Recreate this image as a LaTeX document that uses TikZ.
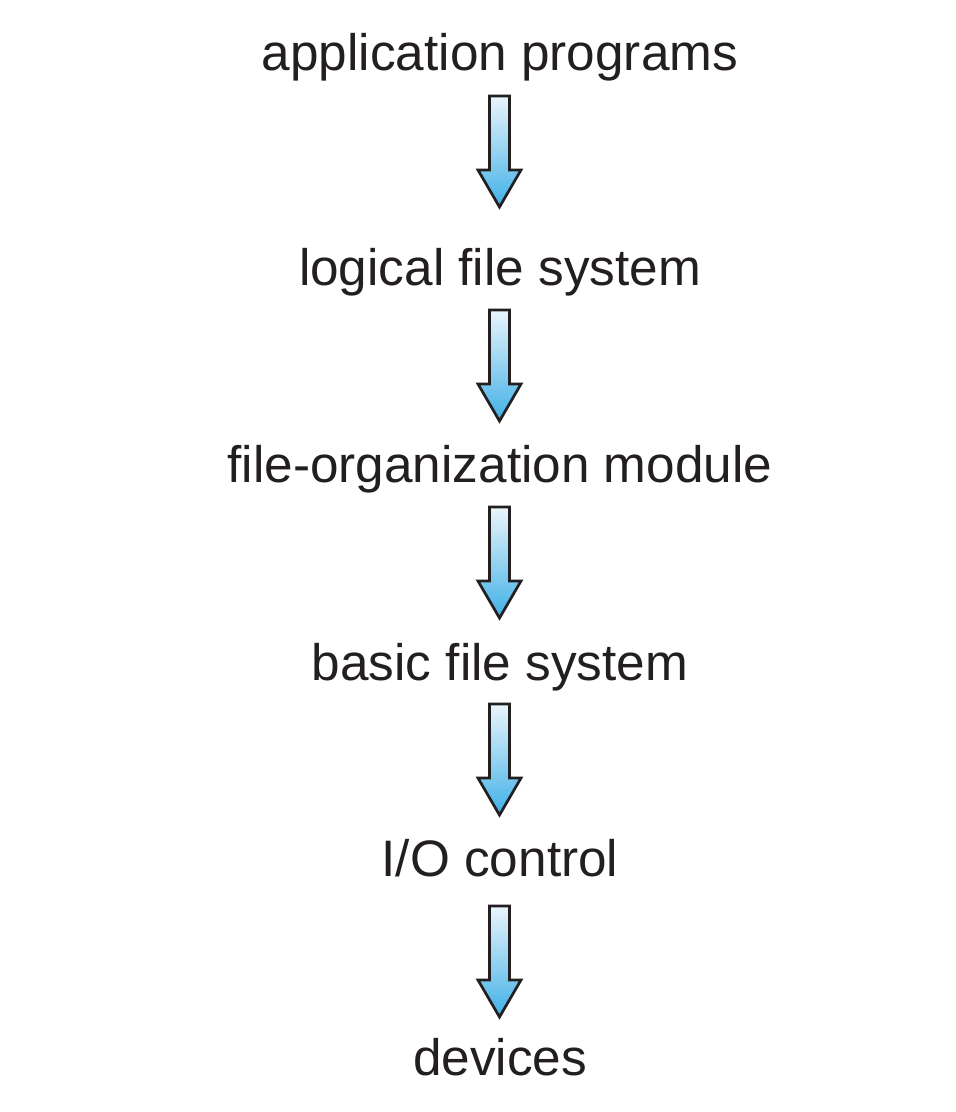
\documentclass[tikz,border=0pt]{standalone}
\usepackage{fontspec}
\setmainfont{Liberation Sans}
\definecolor{txt}{HTML}{231F20}
\definecolor{arrtop}{HTML}{EAF5FC}
\definecolor{arrbot}{HTML}{3FB0E6}
\begin{document}
\begin{tikzpicture}[x=1pt,y=-1pt,
  lbl/.style={font=\fontsize{51.3}{60}\selectfont, text=txt, inner sep=0pt, anchor=base},
  blockarrow/.style={draw=txt, line width=2.7pt, line join=miter, top color=arrtop, bottom color=arrbot, shading angle=0}]
\useasboundingbox (0,0) rectangle (956,1112);
\node[lbl] (t1) at (500,70) {application programs};
\node[lbl] (t2) at (500,285) {logical file system};
\node[lbl] (t3) at (500,482) {file-organization module};
\node[lbl] (t4) at (500,680) {basic file system};
\node[lbl] (t5) at (500,876) {I/O control};
\node[lbl] (t6) at (500,1075) {devices};
\coordinate (a1) at (499.5,96);
\coordinate (a2) at (499.5,310);
\coordinate (a3) at (499.5,507);
\coordinate (a4) at (499.5,704);
\coordinate (a5) at (499.5,906);
\foreach \a in {a1,a2,a3,a4,a5}{
  \draw[blockarrow] (\a) ++(-10,0) -- ++(20,0) -- ++(0,74) -- ++(11.5,0)
     -- ++(-21.5,37) -- ++(-21.5,-37) -- ++(11.5,0) -- cycle;
}
\end{tikzpicture}
\end{document}
